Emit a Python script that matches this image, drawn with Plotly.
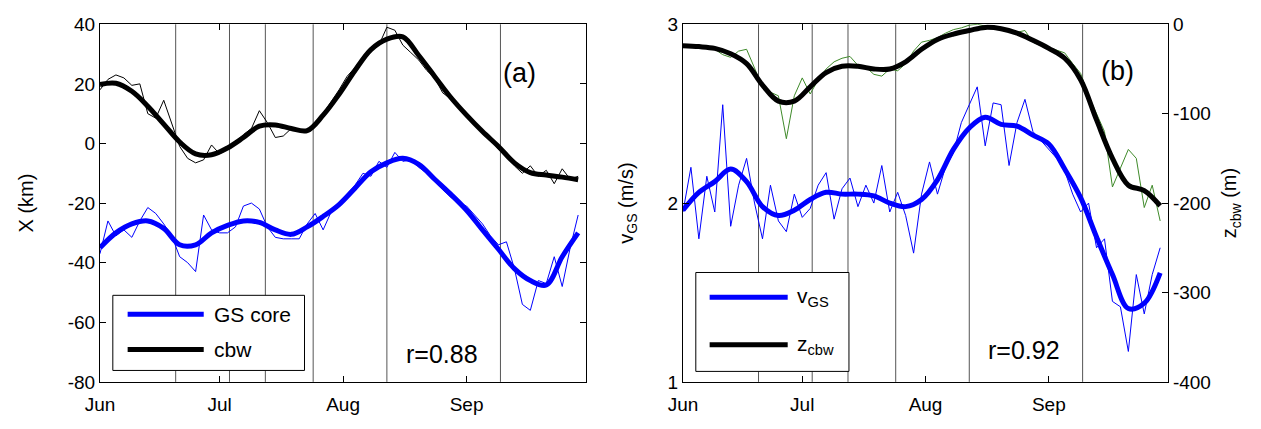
import plotly.graph_objects as go

# ---------------- data ----------------
# day index counted from 1 June; smooth curves every 4 days, raw series every 2 days
days_smooth = list(range(0, 121, 4))
days_raw = list(range(0, 121, 2))

month_ticks = [0, 30, 61, 92]
month_labels = ["Jun", "Jul", "Aug", "Sep"]

x_ticks_a = [-80, -60, -40, -20, 0, 20, 40]
v_ticks = [1, 2, 3]
z_ticks = [-400, -300, -200, -100, 0]

# dates marked with vertical lines (days after 1 June)
event_days = [19, 32.5, 41.5, 53.5, 72, 100.5]

# panel (a): cross-stream position X (km)
cbw_smooth = [19.8, 20.2, 17.5, 12.5, 6.5, 0.5, -3.5, -3.8, -1.5, 2.0, 5.8, 6.2, 5.0, 4.3,
              9.5, 16.5, 24.5, 31.5, 35.0, 35.8, 29.5, 22.5, 15.5, 9.5, 4.0, -1.0, -6.5,
              -9.8, -10.6, -11.3, -12.2]
cbw_raw = [18, 21.5, 23, 22, 19.5, 20, 10, 8.5, 14.5, 6.5, -1, -5, -6.5, -5.5, -0.5, -3.5,
           -2, 0.5, 3, 5, 11, 7, 2, 2.5, 5, 4, 4.5, 6, 10, 14, 18, 22.5, 25.5, 29, 32, 33,
           39, 38, 33, 30.5, 28, 24.5, 22, 17, 15, 12, 10, 6.5, 4.5, 1.5, -2, -4, -7.5, -10,
           -7.5, -11, -9, -13.5, -8.5, -12, -11]
gs_smooth = [-35, -30, -27, -26, -28.5, -34, -34, -30, -27.5, -26, -26.5, -29, -30.5, -28,
             -24.5, -20.5, -15, -9.5, -6.5, -5, -7, -12, -17, -22.4, -29, -35.5, -42, -46,
             -47.5, -38, -30]
gs_raw = [-37, -26, -31, -29, -31.5, -26, -21.5, -23.5, -27, -31, -38, -40, -43, -24, -29,
          -30, -30, -28, -21, -20, -22, -28, -31.5, -32, -32, -32, -27, -23.5, -29, -23, -21,
          -17, -14, -10, -11, -6, -8, -3, -6, -5.5, -8, -10, -12, -15.5, -18, -20, -21, -24,
          -27, -31, -34, -33, -42, -54, -56, -46, -47, -38, -48, -35, -24]

# panel (b): GS core speed (m/s) and cbw depth (m)
v_smooth = [1.96, 2.06, 2.12, 2.19, 2.12, 1.98, 1.93, 1.96, 2.02, 2.06, 2.05, 2.05, 2.04,
            2.0, 1.98, 2.02, 2.13, 2.3, 2.42, 2.48, 2.44, 2.43, 2.38, 2.33, 2.19, 2.03, 1.81,
            1.6, 1.41, 1.44, 1.61]
v_raw = [1.95, 2.2, 1.8, 2.15, 1.95, 2.55, 1.87, 2.1, 2.25, 2.0, 1.8, 2.1, 1.9, 1.84, 2.05,
         1.92, 1.97, 2.1, 2.17, 1.91, 2.08, 2.14, 1.98, 2.1, 2.0, 2.21, 1.95, 2.06, 1.93, 1.72,
         2.05, 2.23, 2.05, 2.2, 2.28, 2.45, 2.55, 2.65, 2.32, 2.56, 2.55, 2.21, 2.45, 2.58,
         2.4, 2.35, 2.3, 2.25, 2.18, 2.05, 1.95, 2.0, 1.75, 1.8, 1.45, 1.42, 1.17, 1.6, 1.38,
         1.6, 1.75]
z_smooth = [-24, -25, -27, -33, -44, -68, -86, -86, -70, -54, -47, -47, -50, -50, -42, -28,
            -17, -11, -7, -3.5, -5, -10, -18, -27, -38, -62, -107, -150, -180, -186, -203]
z_raw = [-24, -24, -26, -25, -28, -34, -37, -30, -28, -50, -70, -76, -80, -128, -80, -60,
         -78, -62, -50, -42, -38, -36, -46, -48, -56, -58, -50, -52, -44, -30, -20, -18, -15,
         -10, -6, -4, -1, 0, -2, -3, -6, -6, -9, -7, -20, -24, -26, -29, -32, -44, -55, -80,
         -100, -120, -182, -160, -140, -150, -205, -180, -220]

# ---------------- styling ----------------
W, H = 1261, 429
FONT = "Liberation Sans, Arial, sans-serif"
BLUE = "#0000ff"
GREEN = "#3f8a2a"
THICK = 5
THIN = 1


def px(x):
    return x / W


def py(y):
    return 1 - y / H


def labels(vals):
    # plain hyphen-minus for negative tick labels
    return [str(v) for v in vals]


fig = go.Figure()

# panel (a)
fig.add_trace(go.Scatter(x=days_raw, y=cbw_raw, mode="lines", line=dict(color="black", width=THIN),
                         xaxis="x", yaxis="y", showlegend=False))
fig.add_trace(go.Scatter(x=days_smooth, y=cbw_smooth, mode="lines", line=dict(color="black", width=THICK, shape="spline"),
                         xaxis="x", yaxis="y", name="cbw", showlegend=False))
fig.add_trace(go.Scatter(x=days_raw, y=gs_raw, mode="lines", line=dict(color=BLUE, width=THIN),
                         xaxis="x", yaxis="y", showlegend=False))
fig.add_trace(go.Scatter(x=days_smooth, y=gs_smooth, mode="lines", line=dict(color=BLUE, width=THICK, shape="spline"),
                         xaxis="x", yaxis="y", name="GS core", showlegend=False))

# panel (b)
fig.add_trace(go.Scatter(x=days_raw, y=z_raw, mode="lines", line=dict(color=GREEN, width=THIN),
                         xaxis="x2", yaxis="y4", showlegend=False))
fig.add_trace(go.Scatter(x=days_smooth, y=z_smooth, mode="lines", line=dict(color="black", width=THICK, shape="spline"),
                         xaxis="x2", yaxis="y4", name="z<sub>cbw</sub>", showlegend=False))
fig.add_trace(go.Scatter(x=days_raw, y=v_raw, mode="lines", line=dict(color=BLUE, width=THIN),
                         xaxis="x2", yaxis="y3", showlegend=False))
fig.add_trace(go.Scatter(x=days_smooth, y=v_smooth, mode="lines", line=dict(color=BLUE, width=THICK, shape="spline"),
                         xaxis="x2", yaxis="y3", name="v<sub>GS</sub>", showlegend=False))

ydom = [py(391), py(15)]
tickfont = dict(family=FONT, size=19, color="black")
titlefont = dict(family=FONT, size=20, color="black")
common_x = dict(range=[0, 122], tickvals=month_ticks, ticktext=month_labels, ticks="inside",
                ticklen=6, tickcolor="black", showline=True, linecolor="black", linewidth=1,
                mirror="ticks", showgrid=False, zeroline=False, tickfont=tickfont,
                ticklabelstandoff=5)

fig.update_layout(
    width=W, height=H,
    margin=dict(l=0, r=0, t=0, b=0),
    paper_bgcolor="white", plot_bgcolor="white",
    xaxis=dict(domain=[px(86), px(578)], anchor="y", **common_x),
    xaxis2=dict(domain=[px(676), px(1167)], anchor="y3", **common_x),
    yaxis=dict(domain=ydom, anchor="x", range=[-80, 40], tickvals=x_ticks_a, ticktext=labels(x_ticks_a),
               ticks="inside", ticklen=6, tickcolor="black", showline=True, linecolor="black",
               linewidth=1, mirror="ticks", showgrid=False, zeroline=False, tickfont=tickfont,
               title=dict(text="X (km)", font=titlefont, standoff=28)),
    yaxis3=dict(domain=ydom, anchor="x2", range=[1, 3], tickvals=v_ticks, ticktext=labels(v_ticks),
                ticks="inside", ticklen=6, tickcolor="black", showline=True, linecolor="black",
                linewidth=1, showgrid=False, zeroline=False, tickfont=tickfont,
                title=dict(text="v<sub>GS</sub> (m/s)", font=titlefont, standoff=28)),
    yaxis4=dict(overlaying="y3", side="right", anchor="x2", range=[-400, 0],
                tickvals=z_ticks, ticktext=labels(z_ticks), ticks="inside", ticklen=6,
                tickcolor="black", showline=True, linecolor="black", linewidth=1,
                showgrid=False, zeroline=False, tickfont=tickfont,
                title=dict(text="z<sub>cbw</sub> (m)", font=titlefont, standoff=12)),
)

# marked dates as vertical lines in both panels
shapes = []
for xa, ya in (("x", "y"), ("x2", "y3")):
    for d in event_days:
        shapes.append(dict(type="line", xref=xa, yref=ya + " domain", x0=d, x1=d, y0=0, y1=1,
                           line=dict(color="#555555", width=1), layer="below"))

# legend boxes
legend_boxes = [
    dict(box=(99, 300, 293, 379), x0=114, x1=191, tx=199,
         items=[("GS core", BLUE, 320), ("cbw", "black", 357)]),
    dict(box=(689, 276, 844, 380), x0=703, x1=782, tx=789,
         items=[("v<sub>GS</sub>", BLUE, 302), ("z<sub>cbw</sub>", "black", 352)]),
]
annotations = []
for lb in legend_boxes:
    bx0, by0, bx1, by1 = lb["box"]
    shapes.append(dict(type="rect", xref="paper", yref="paper", x0=px(bx0), x1=px(bx1),
                       y0=py(by1), y1=py(by0), line=dict(color="black", width=1),
                       fillcolor="white", layer="above"))
    for label, color, yy in lb["items"]:
        shapes.append(dict(type="line", xref="paper", yref="paper", x0=px(lb["x0"]), x1=px(lb["x1"]),
                           y0=py(yy), y1=py(yy), line=dict(color=color, width=THICK), layer="above"))
        annotations.append(dict(xref="paper", yref="paper", x=px(lb["tx"]), y=py(yy), text=label,
                                showarrow=False, xanchor="left", yanchor="middle",
                                font=dict(family=FONT, size=21, color="black")))

# panel letters and correlation coefficients
for text, x, y, size in (("(a)", 511, 66, 27), ("(b)", 1116, 64, 27),
                         ("r=0.88", 432, 362, 25), ("r=0.92", 1021, 358, 25)):
    annotations.append(dict(xref="paper", yref="paper", x=px(x), y=py(y), text=text,
                            showarrow=False, xanchor="center", yanchor="middle",
                            font=dict(family=FONT, size=size, color="black")))

fig.update_layout(shapes=shapes, annotations=annotations)

fig.write_html("out.html")
